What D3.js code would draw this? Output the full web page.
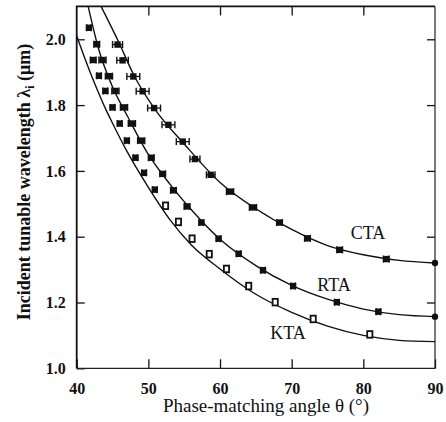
<!DOCTYPE html>
<html>
<head>
<meta charset="utf-8">
<script src="https://cdn.jsdelivr.net/npm/d3@7"></script>
<style>
  html, body { margin: 0; padding: 0; background: #fff; }
  svg text { font-family: "Liberation Serif", "Times New Roman", serif; fill: #111; }
</style>
</head>
<body>
<div id="chart"></div>
<script>
// tick labels
const xTicks = [40, 50, 60, 70, 80, 90];
const yTicks = [1.0, 1.2, 1.4, 1.6, 1.8, 2.0];

// measured points (angle in deg, wavelength in um, horizontal error in deg)
const ctaTheta  = [45.7, 46.4, 47.9, 49.2, 50.8, 52.8, 54.8, 56.5, 58.7, 61.4, 64.6, 68.3, 72.2, 76.7, 83.2];
const ctaLambda = [1.984, 1.936, 1.887, 1.842, 1.791, 1.740, 1.689, 1.636, 1.588, 1.537, 1.489, 1.443, 1.395, 1.360, 1.332];
const ctaErr    = [0.7, 0.8, 0.9, 0.9, 0.9, 0.9, 0.9, 0.7, 0.6, 0.5, 0.5, 0.4, 0.4, 0.4, 0.4];

const rtaTheta  = [42.8, 43.6, 44.5, 45.4, 46.6, 47.7, 49.0, 50.4, 52.0, 53.5, 55.4, 57.4, 59.8, 62.6, 66.0, 70.2, 76.3, 82.1];
const rtaLambda = [1.985, 1.937, 1.888, 1.843, 1.793, 1.744, 1.692, 1.640, 1.591, 1.541, 1.492, 1.443, 1.394, 1.348, 1.298, 1.250, 1.201, 1.172];
const rtaErr    = [0.4, 0.5, 0.5, 0.5, 0.5, 0.5, 0.5, 0.4, 0.4, 0.4, 0.4, 0.3, 0.3, 0.3, 0.3, 0.3, 0.3, 0.3];

const ktaTheta  = [41.7, 42.3, 43.1, 44.0, 45.0, 46.0, 47.0, 48.2, 49.4, 50.9, 52.4, 54.2, 56.1, 58.5, 60.9, 64.0, 67.7, 73.0, 80.9];
const ktaLambda = [2.035, 1.937, 1.889, 1.843, 1.793, 1.744, 1.692, 1.640, 1.594, 1.543, 1.494, 1.445, 1.394, 1.347, 1.302, 1.250, 1.201, 1.150, 1.103];
const ktaErr    = [0.3, 0.4, 0.3, 0.3, 0.3, 0.3, 0.3, 0.3, 0.3, 0.3, 0.2, 0.2, 0.2, 0.2, 0.2, 0.2, 0.2, 0.2, 0.2];

// points at 90 deg
const endTheta  = [90, 90];
const endLambda = [1.320, 1.157];

// fitted curves
const ctaFitTheta  = [43.4, 46, 48, 51, 55, 60, 65, 70, 75, 80, 85, 90];
const ctaFitLambda = [2.10, 1.985, 1.890, 1.785, 1.682, 1.565, 1.485, 1.422, 1.373, 1.345, 1.328, 1.320];
const rtaFitTheta  = [41.6, 43, 45, 47, 50, 53, 56, 60, 65, 70, 75, 80, 85, 90];
const rtaFitLambda = [2.10, 1.975, 1.855, 1.770, 1.650, 1.560, 1.482, 1.392, 1.312, 1.252, 1.210, 1.180, 1.163, 1.157];
const ktaFitTheta  = [40, 41, 42, 43, 44, 45, 47, 50, 53, 56, 60, 65, 70, 75, 80, 85, 90];
const ktaFitLambda = [2.01, 1.950, 1.893, 1.840, 1.790, 1.745, 1.660, 1.550, 1.452, 1.375, 1.302, 1.225, 1.170, 1.128, 1.100, 1.085, 1.081];

const seriesNames = ['CTA', 'RTA', 'KTA'];

const W = 446, H = 422;
const pLeft = 76.7, pRight = 435, pTop = 6.4, pBottom = 368.3;

const svg = d3.select('#chart').append('svg')
  .attr('width', W)
  .attr('height', H);

const x = d3.scaleLinear().domain([40, 90]).range([pLeft, pRight]);
const y = d3.scaleLinear().domain([1.0, 2.1]).range([pBottom, pTop]);

svg.append('clipPath').attr('id', 'plot')
  .append('rect')
  .attr('x', pLeft).attr('y', pTop)
  .attr('width', pRight - pLeft).attr('height', pBottom - pTop);

// axes with inward ticks
const axB = svg.append('g').attr('transform', `translate(0,${pBottom})`)
  .call(d3.axisBottom(x).tickValues(xTicks).tickSizeInner(-9).tickSizeOuter(0).tickPadding(14));
const axL = svg.append('g').attr('transform', `translate(${pLeft},0)`)
  .call(d3.axisLeft(y).tickValues(yTicks).tickSizeInner(-8).tickSizeOuter(0).tickPadding(11).tickFormat(d3.format('.1f')));
const axT = svg.append('g').attr('transform', `translate(0,${pTop})`)
  .call(d3.axisTop(x).tickValues(xTicks.slice(1, -1)).tickSizeInner(-9).tickSizeOuter(0).tickFormat(''));
const axR = svg.append('g').attr('transform', `translate(${pRight},0)`)
  .call(d3.axisRight(y).tickValues(yTicks.slice(1)).tickSizeInner(-8).tickSizeOuter(0).tickFormat(''));

[axB, axL, axT, axR].forEach(a => {
  a.select('.domain').remove();
  a.selectAll('line').attr('stroke', '#111').attr('stroke-width', 1.3);
});
[axB, axL].forEach(a => {
  a.selectAll('text')
    .attr('font-size', '16px')
    .attr('font-weight', 'bold')
    .attr('font-family', 'Liberation Serif')
    .attr('fill', '#111');
});

// frame
svg.append('path')
  .attr('d', `M${pLeft},${pBottom}V${pTop}H${pRight}`)
  .attr('fill', 'none').attr('stroke', '#111').attr('stroke-width', 1.8);
svg.append('path')
  .attr('d', `M${pLeft},${pBottom}H${pRight}V${pTop}`)
  .attr('fill', 'none').attr('stroke', '#222').attr('stroke-width', 1.2);

// fitted curves
const line = d3.line()
  .x(d => x(d[0]))
  .y(d => y(d[1]))
  .curve(d3.curveMonotoneX);

const fits = [
  [ctaFitTheta, ctaFitLambda],
  [rtaFitTheta, rtaFitLambda],
  [ktaFitTheta, ktaFitLambda]
];
fits.forEach(f => {
  svg.append('path')
    .datum(d3.zip(f[0], f[1]))
    .attr('d', line)
    .attr('clip-path', 'url(#plot)')
    .attr('fill', 'none')
    .attr('stroke', '#111')
    .attr('stroke-width', 1.4);
});

// data points with horizontal error bars
// (KTA marks look solid in the crowded upper part, open lower down)
function drawPoints(thetas, lambdas, errs, open) {
  const g = svg.append('g');
  thetas.forEach((t, i) => {
    const cx = x(t), cy = y(lambdas[i]);
    const x0 = x(t - errs[i]), x1 = x(t + errs[i]);
    g.append('line').attr('x1', x0).attr('x2', x1).attr('y1', cy).attr('y2', cy)
      .attr('stroke', '#111').attr('stroke-width', 1.3);
    [x0, x1].forEach(xe => {
      g.append('line').attr('x1', xe).attr('x2', xe).attr('y1', cy - 3.5).attr('y2', cy + 3.5)
        .attr('stroke', '#111').attr('stroke-width', 1.4);
    });
    if (open && lambdas[i] < 1.52) {
      g.append('rect').attr('x', cx - 2.6).attr('y', cy - 3.3).attr('width', 5.2).attr('height', 6.6)
        .attr('fill', '#fff').attr('stroke', '#111').attr('stroke-width', 1.8);
    } else {
      g.append('rect').attr('x', cx - 3.2).attr('y', cy - 3.2).attr('width', 6.4).attr('height', 6.4)
        .attr('fill', '#111');
    }
  });
}
drawPoints(ctaTheta, ctaLambda, ctaErr, false);
drawPoints(rtaTheta, rtaLambda, rtaErr, false);
drawPoints(ktaTheta, ktaLambda, ktaErr, true);

svg.selectAll('.endpt')
  .data(d3.zip(endTheta, endLambda))
  .enter().append('circle')
  .attr('cx', d => x(d[0]))
  .attr('cy', d => y(d[1]))
  .attr('r', 3.2)
  .attr('fill', '#111');

// series labels
const labelPos = [[368, 239], [334, 291], [288, 339]];
seriesNames.forEach((s, i) => {
  svg.append('text')
    .attr('x', labelPos[i][0]).attr('y', labelPos[i][1])
    .attr('text-anchor', 'middle')
    .attr('font-size', '18px')
    .text(s);
});

// axis titles
svg.append('text')
  .attr('x', 266).attr('y', 412)
  .attr('text-anchor', 'middle')
  .attr('font-size', '19px')
  .text('Phase-matching angle θ (°)');

const yt = svg.append('text')
  .attr('transform', `translate(30,${(27 + 337) / 2}) rotate(-90)`)
  .attr('text-anchor', 'middle')
  .attr('font-size', '18px')
  .attr('font-weight', 'bold');
yt.append('tspan').text('Incident tunable wavelength λ');
yt.append('tspan').attr('font-size', '12px').attr('dy', 4).text('i');
yt.append('tspan').attr('dy', -4).text(' (μm)');
</script>
</body>
</html>
